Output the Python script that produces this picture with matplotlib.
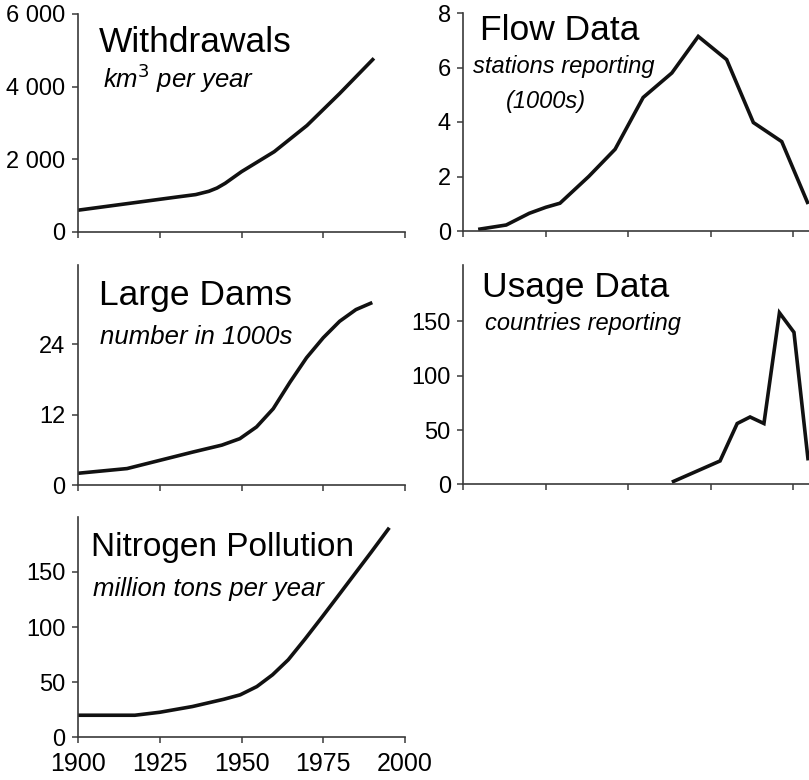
import matplotlib
matplotlib.use("Agg")
import matplotlib.pyplot as plt
from matplotlib.ticker import FuncFormatter

plt.rcParams['font.family'] = ['Liberation Sans', 'DejaVu Sans']

# ---------------- data ----------------
withdraw_years = [1900, 1910, 1920, 1930, 1936, 1940, 1942.5, 1945, 1947.5, 1950, 1960, 1970, 1980, 1990.5]
withdraw_vals = [600, 720, 840, 960, 1030, 1120, 1210, 1340, 1500, 1660, 2210, 2930, 3810, 4780]

dams_years = [1900, 1915, 1925, 1935, 1944, 1949.5, 1954.6, 1959.7, 1964.8, 1969.9, 1975, 1980, 1985, 1990]
dams_vals = [2.0, 2.8, 4.2, 5.6, 6.8, 7.9, 9.9, 13.0, 17.5, 21.7, 25.1, 27.9, 29.9, 31.1]

nitro_years = [1900, 1917.4, 1925, 1935, 1944.6, 1949.6, 1954.7, 1959.5, 1964.3, 1969.4, 1974.5, 1979.5, 1984.6, 1989.7, 1995.2]
nitro_vals = [20, 20, 22.7, 27.9, 34.5, 38.5, 46, 56.7, 70.3, 89, 108.5, 128, 148, 168, 190]

flow_years = [1904.5, 1913, 1920, 1925, 1929.3, 1938, 1946, 1954.5, 1963.2, 1971.2, 1979.8, 1987.9, 1996.5, 2004.5]
flow_vals = [0.06, 0.22, 0.65, 0.87, 1.02, 2.0, 3.0, 4.9, 5.8, 7.14, 6.29, 3.98, 3.28, 0.99]

usage_years = [1963.2, 1977.8, 1983, 1986.9, 1991.1, 1995.8, 2000.2, 2004.5]
usage_vals = [2, 21.5, 56, 62, 56, 158, 140, 22]

year_ticks = [1900, 1925, 1950, 1975, 2000]
withdraw_ticks = [0, 2000, 4000, 6000]
dams_ticks = [0, 12, 24]
nitro_ticks = [0, 50, 100, 150]
flow_ticks = [0, 2, 4, 6, 8]
usage_ticks = [0, 50, 100, 150]

titles = ["Withdrawals", "Large Dams", "Nitrogen Pollution", "Flow Data", "Usage Data"]

# ---------------- figure ----------------
W, H = 809, 780
fig = plt.figure(figsize=(W / 100, H / 100), dpi=100)

def ax_px(x0, x1, ytop, ybot):
    return fig.add_axes([x0 / W, 1 - ybot / H, (x1 - x0) / W, (ybot - ytop) / H])

spine_col = '#3a3a3a'
line_col = '#111111'

def style(ax, xlim, ylim, yticks, fmt=None, xlabels=False):
    ax.set_xlim(*xlim)
    ax.set_ylim(*ylim)
    for s in ['top', 'right']:
        ax.spines[s].set_visible(False)
    for s in ['left', 'bottom']:
        ax.spines[s].set_color(spine_col)
        ax.spines[s].set_linewidth(1.2)
    ax.set_xticks(year_ticks)
    ax.set_yticks(yticks)
    if fmt is not None:
        ax.yaxis.set_major_formatter(FuncFormatter(fmt))
    ax.tick_params(axis='both', direction='out', length=4, width=1.1, color=spine_col)
    ax.tick_params(axis='y', labelsize=17, pad=5)
    ax.tick_params(axis='x', labelsize=18, pad=6.5)
    if not xlabels:
        ax.set_xticklabels([])
    ax.patch.set_alpha(0)

def thousands(v, pos):
    return f"{int(v):,}".replace(",", " ")

lw = 2.6

# Withdrawals
ax1 = ax_px(78, 405, 14, 232)
ax1.plot(withdraw_years, withdraw_vals, color=line_col, lw=lw, solid_capstyle='butt')
style(ax1, (1900, 2000), (0, 6000), withdraw_ticks, thousands)

# Large dams
ax2 = ax_px(78, 405, 265, 485)
ax2.plot(dams_years, dams_vals, color=line_col, lw=lw, solid_capstyle='butt')
style(ax2, (1900, 2000), (0, 37.5), dams_ticks)

# Nitrogen
ax3 = ax_px(78, 405, 516.7, 737.3)
ax3.plot(nitro_years, nitro_vals, color=line_col, lw=lw, solid_capstyle='butt')
style(ax3, (1900, 2000), (0, 200), nitro_ticks, xlabels=True)

# Flow data
xr = (1900, 1900 + (809 - 463.3) / 3.3)
ax4 = ax_px(463.3, 809, 13, 231)
ax4.plot(flow_years, flow_vals, color=line_col, lw=lw, solid_joinstyle='miter', solid_capstyle='butt')
style(ax4, xr, (0, 8), flow_ticks)

# Usage data
ax5 = ax_px(463.3, 809, 265, 484.3)
ax5.plot(usage_years, usage_vals, color=line_col, lw=lw, solid_joinstyle='miter', solid_capstyle='butt')
style(ax5, xr, (0, 202), usage_ticks)

# ---------------- titles ----------------
def ftext(x, y, s, size, italic=False):
    fig.text(x / W, 1 - y / H, s, fontsize=size, va='baseline', ha='left',
             style='italic' if italic else 'normal', color='black')

ftext(99, 52, titles[0], 25.5)
ftext(103, 88, r"km$^3$ per year", 18.5, italic=True)
ftext(99, 305, titles[1], 25.5)
ftext(100, 344, "number in 1000s", 18.5, italic=True)
ftext(91, 556, titles[2], 24)
ftext(93, 596, "million tons per year", 18.5, italic=True)
ftext(480, 40, titles[3], 25.5)
ftext(473, 73, "stations reporting", 17, italic=True)
ftext(506, 108, "(1000s)", 17, italic=True)
ftext(482, 297, titles[4], 25.5)
ftext(485, 330, "countries reporting", 17, italic=True)

fig.savefig("out.png", dpi=100)
